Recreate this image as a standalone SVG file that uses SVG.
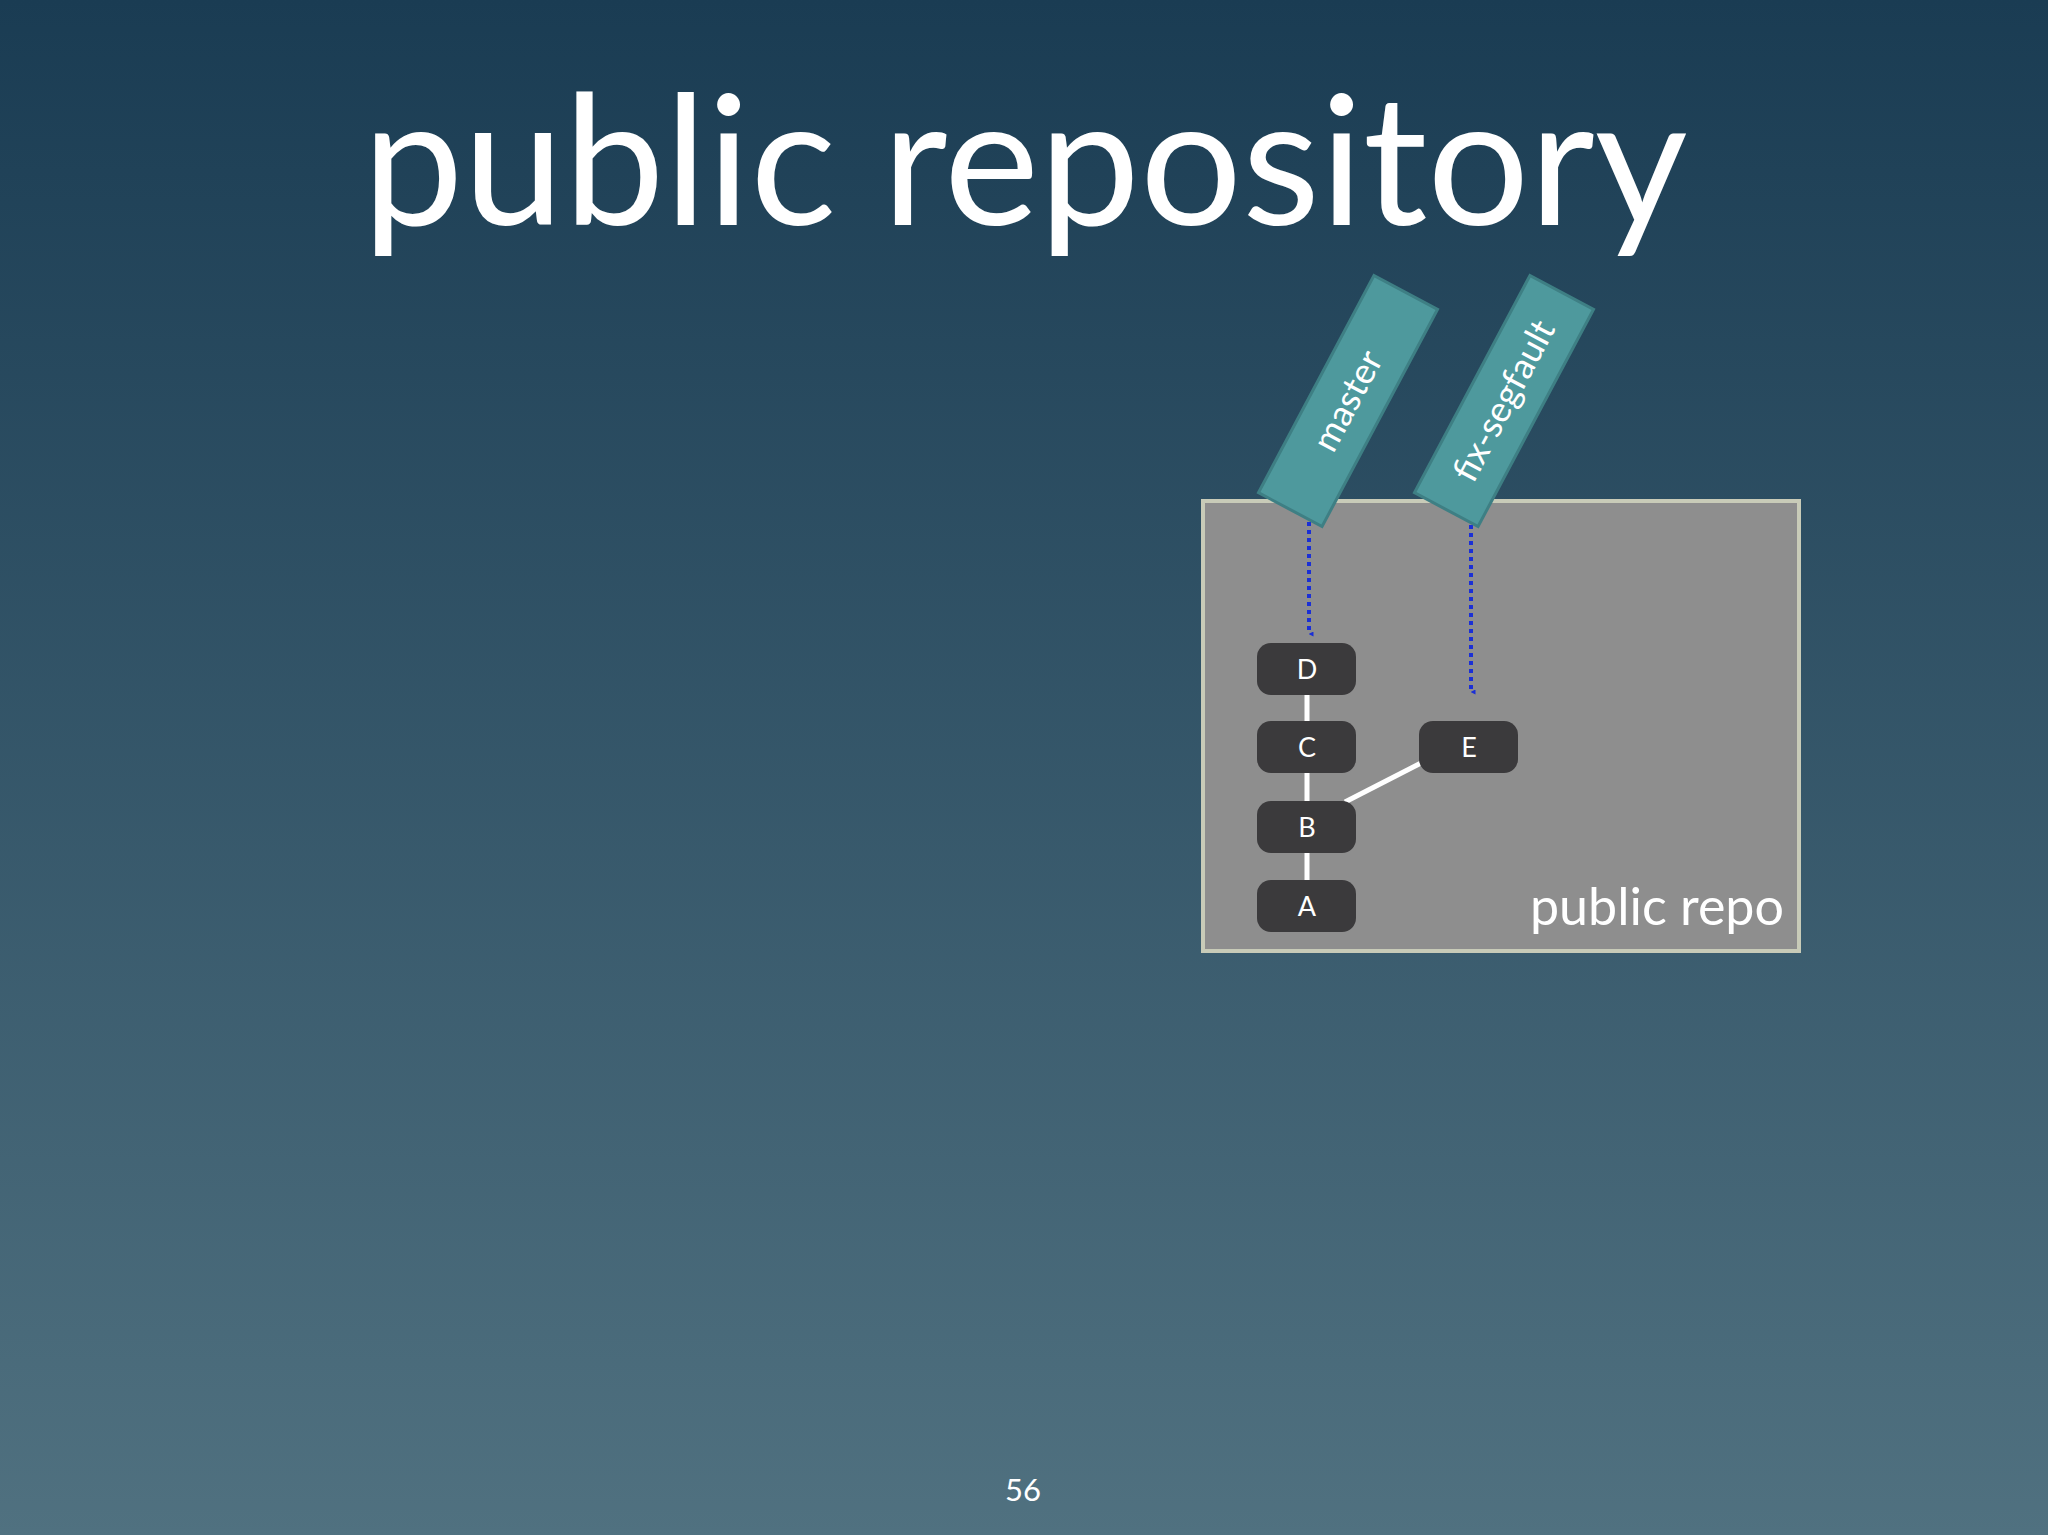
<svg xmlns="http://www.w3.org/2000/svg" width="2048" height="1535" viewBox="0 0 2048 1535">
<defs>
<linearGradient id="bg" x1="0" y1="0" x2="0" y2="1"><stop offset="0" stop-color="#1a3c53"/><stop offset="1" stop-color="#507180"/></linearGradient>
<marker id="ah" viewBox="0 0 10 10" refX="5" refY="9" markerWidth="5" markerHeight="5" orient="auto-start-reverse" markerUnits="userSpaceOnUse"><path d="M0,0 L10,0 L5,10 Z" fill="#1a2fd6"/></marker>
<style>
.n rect{fill:#3b3a3c}
.n text{fill:#fff;font-family:Lato,"Open Sans",sans-serif;font-size:27px;text-anchor:middle}
.tag rect{fill:#4e999d;stroke:#3e7f84;stroke-width:3}
.tag text{fill:#fff;font-family:Lato,"Open Sans",sans-serif;font-size:36px;text-anchor:middle}
.ptr{stroke:#1a2fd6;stroke-width:4;stroke-dasharray:4 4;fill:none}
.edge{stroke:#fff;stroke-width:5}
</style>
</defs>
<rect width="2048" height="1535" fill="url(#bg)"/>
<text x="1025" y="225" font-family="Lato,'Open Sans',sans-serif" font-size="180" fill="#fff" text-anchor="middle">public repository</text>
<g id="repo"><rect x="1203" y="501" width="596" height="450" fill="#8e8e8e" stroke="#c8cbb8" stroke-width="4"/>
<text x="1784" y="925" font-family="Lato,'Open Sans',sans-serif" font-size="52" fill="#fff" text-anchor="end">public repo</text></g>
<g id="connectors">
<line class="edge" x1="1307" y1="669" x2="1307" y2="906"/>
<line class="edge" x1="1345" y1="802" x2="1421" y2="763"/>
<line class="ptr" x1="1309" y1="522" x2="1309" y2="634" marker-end="url(#ah)"/>
<line class="ptr" x1="1471" y1="525" x2="1471" y2="692" marker-end="url(#ah)"/>
</g>
<g id="D" class="n"><rect x="1257" y="643" width="99" height="52" rx="14"/><text x="1307" y="679">D</text></g>
<g id="C" class="n"><rect x="1257" y="721" width="99" height="52" rx="14"/><text x="1307" y="757">C</text></g>
<g id="B" class="n"><rect x="1257" y="801" width="99" height="52" rx="14"/><text x="1307" y="837">B</text></g>
<g id="A" class="n"><rect x="1257" y="880" width="99" height="52" rx="14"/><text x="1307" y="916">A</text></g>
<g id="E" class="n"><rect x="1419" y="721" width="99" height="52" rx="14"/><text x="1469" y="757">E</text></g>
<g id="master" class="tag" transform="translate(1348,401) rotate(-62)"><rect x="-123" y="-36" width="246" height="72"/><text x="0" y="12">master</text></g>
<g id="fix-segfault" class="tag" transform="translate(1504,401) rotate(-62)"><rect x="-123" y="-36" width="246" height="72"/><text x="0" y="12">fix-segfault</text></g>
<text x="1023" y="1501" font-family="Lato,'Open Sans',sans-serif" font-size="31" fill="#fff" text-anchor="middle">56</text>
</svg>
